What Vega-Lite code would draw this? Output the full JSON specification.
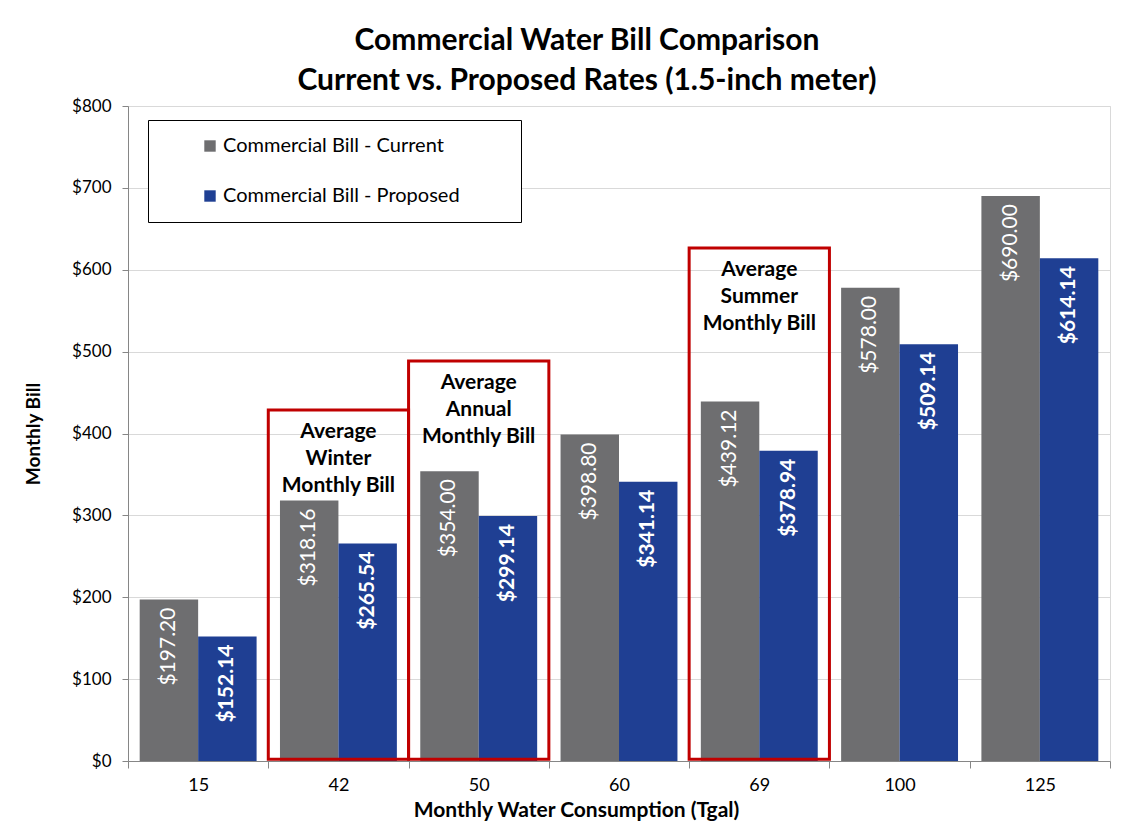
{
  "$schema": "https://vega.github.io/schema/vega-lite/v6.json",
  "width": 982,
  "height": 655,
  "autosize": {"type": "none"},
  "padding": {"left": 128, "top": 106, "right": 38, "bottom": 71},
  "background": "white",
  "config": {"font": "Lato", "view": {"stroke": "#d9d9d9", "strokeWidth": 1}},
  "title": {
    "text": ["Commercial Water Bill Comparison", "Current vs. Proposed Rates (1.5-inch meter)"],
    "fontSize": 30,
    "fontWeight": "bold",
    "color": "black",
    "lineHeight": 40,
    "offset": 1,
    "dx": -32,
    "anchor": "middle"
  },
  "datasets": {
    "bills": [
      {"consumption": 15, "series": "Commercial Bill - Current", "bill": 197.20},
      {"consumption": 15, "series": "Commercial Bill - Proposed", "bill": 152.14},
      {"consumption": 42, "series": "Commercial Bill - Current", "bill": 318.16},
      {"consumption": 42, "series": "Commercial Bill - Proposed", "bill": 265.54},
      {"consumption": 50, "series": "Commercial Bill - Current", "bill": 354.00},
      {"consumption": 50, "series": "Commercial Bill - Proposed", "bill": 299.14},
      {"consumption": 60, "series": "Commercial Bill - Current", "bill": 398.80},
      {"consumption": 60, "series": "Commercial Bill - Proposed", "bill": 341.14},
      {"consumption": 69, "series": "Commercial Bill - Current", "bill": 439.12},
      {"consumption": 69, "series": "Commercial Bill - Proposed", "bill": 378.94},
      {"consumption": 100, "series": "Commercial Bill - Current", "bill": 578.00},
      {"consumption": 100, "series": "Commercial Bill - Proposed", "bill": 509.14},
      {"consumption": 125, "series": "Commercial Bill - Current", "bill": 690.00},
      {"consumption": 125, "series": "Commercial Bill - Proposed", "bill": 614.14}
    ],
    "boxes": [
      {"consumption": 42, "top": 428.7, "bottom": 2, "note": "Average\nWinter\nMonthly Bill"},
      {"consumption": 50, "top": 488.5, "bottom": 2, "note": "Average\nAnnual\nMonthly Bill"},
      {"consumption": 69, "top": 626.6, "bottom": 2, "note": "Average\nSummer\nMonthly Bill"}
    ]
  },
  "layer": [
    {
      "data": {"name": "bills"},
      "mark": {"type": "bar"},
      "encoding": {
        "x": {
          "field": "consumption",
          "type": "ordinal",
          "sort": [15, 42, 50, 60, 69, 100, 125],
          "scale": {"paddingInner": 0, "paddingOuter": 0},
          "axis": {
            "title": "Monthly Water Consumption (Tgal)",
            "labelAngle": 0,
            "tickBand": "extent",
            "domainColor": "#868686",
            "tickColor": "#868686",
            "tickSize": 7,
            "labelFontSize": 18,
            "labelColor": "black",
            "labelPadding": 8,
            "titleFontSize": 21,
            "titleFontWeight": "bold",
            "titleColor": "black",
            "titleX": 448,
            "titleY": 38,
            "titleBaseline": "top"
          }
        },
        "xOffset": {
          "field": "series",
          "sort": ["Commercial Bill - Current", "Commercial Bill - Proposed"],
          "scale": {"paddingInner": 0, "paddingOuter": 0.2}
        },
        "y": {
          "field": "bill",
          "type": "quantitative",
          "scale": {"domain": [0, 800]},
          "axis": {
            "title": "Monthly Bill",
            "format": "$,.0f",
            "values": [0, 100, 200, 300, 400, 500, 600, 700, 800],
            "gridColor": "#d9d9d9",
            "domainColor": "#868686",
            "tickColor": "#868686",
            "tickSize": 6,
            "labelFontSize": 17,
            "labelColor": "black",
            "labelPadding": 11,
            "titleFontSize": 19,
            "titleFontWeight": "bold",
            "titleColor": "black",
            "titlePadding": 28
          }
        },
        "color": {
          "field": "series",
          "type": "nominal",
          "scale": {
            "domain": ["Commercial Bill - Current", "Commercial Bill - Proposed"],
            "range": ["#6e6e70", "#1f3f93"]
          },
          "legend": {
            "orient": "none",
            "legendX": 20,
            "legendY": 14,
            "title": null,
            "symbolType": "square",
            "symbolSize": 130,
            "symbolStrokeWidth": 0,
            "labelFontSize": 20,
            "labelColor": "black",
            "labelOffset": 3,
            "labelLimit": 0,
            "symbolOffset": 36,
            "padding": 16,
            "rowPadding": 30,
            "strokeColor": "black",
            "fillColor": "white",
            "labelExpr": "datum.label + '\u2800\u2800\u2800'"
          }
        }
      }
    },
    {
      "data": {"name": "bills"},
      "transform": [{"filter": "datum.series == 'Commercial Bill - Current'"}],
      "mark": {"type": "text", "angle": 270, "align": "right", "baseline": "middle", "dx": -8, "color": "white", "fontSize": 21, "fontWeight": "normal"},
      "encoding": {
        "x": {"field": "consumption", "type": "ordinal", "sort": [15, 42, 50, 60, 69, 100, 125]},
        "xOffset": {"field": "series", "sort": ["Commercial Bill - Current", "Commercial Bill - Proposed"]},
        "y": {"field": "bill", "type": "quantitative"},
        "text": {"field": "bill", "type": "quantitative", "format": "$,.2f"}
      }
    },
    {
      "data": {"name": "bills"},
      "transform": [{"filter": "datum.series == 'Commercial Bill - Proposed'"}],
      "mark": {"type": "text", "angle": 270, "align": "right", "baseline": "middle", "dx": -8, "color": "white", "fontSize": 21, "fontWeight": "bold"},
      "encoding": {
        "x": {"field": "consumption", "type": "ordinal", "sort": [15, 42, 50, 60, 69, 100, 125]},
        "xOffset": {"field": "series", "sort": ["Commercial Bill - Current", "Commercial Bill - Proposed"]},
        "y": {"field": "bill", "type": "quantitative"},
        "text": {"field": "bill", "type": "quantitative", "format": "$,.2f"}
      }
    },
    {
      "data": {"name": "boxes"},
      "mark": {"type": "rect", "filled": false, "stroke": "#c00000", "strokeWidth": 3},
      "encoding": {
        "x": {"field": "consumption", "type": "ordinal", "sort": [15, 42, 50, 60, 69, 100, 125]},
        "y": {"field": "top", "type": "quantitative"},
        "y2": {"field": "bottom"}
      }
    },
    {
      "data": {"name": "boxes"},
      "mark": {"type": "text", "align": "center", "baseline": "top", "dy": 11, "lineBreak": "\n", "lineHeight": 27, "fontSize": 21, "fontWeight": "bold", "color": "black"},
      "encoding": {
        "x": {"field": "consumption", "type": "ordinal", "sort": [15, 42, 50, 60, 69, 100, 125]},
        "y": {"field": "top", "type": "quantitative"},
        "text": {"field": "note", "type": "nominal"}
      }
    }
  ]
}
